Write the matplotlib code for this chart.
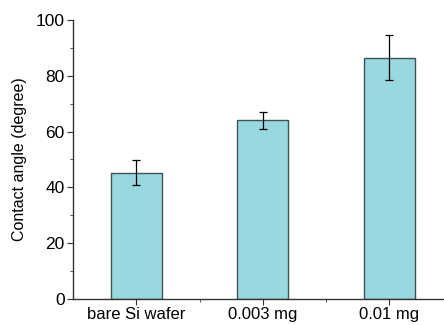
import matplotlib
matplotlib.use("Agg")
import matplotlib.pyplot as plt
from matplotlib.ticker import MultipleLocator

# Data
categories = ["bare Si wafer", "0.003 mg", "0.01 mg"]
angles = [45.2, 64.0, 86.5]
errors = [4.5, 3.0, 8.1]

plt.rcParams['font.family'] = ['Liberation Sans', 'DejaVu Sans']

fig = plt.figure(figsize=(4.44, 3.25), dpi=100)
ax = fig.add_axes([0.1644, 0.08, 0.855, 0.8585])

x = range(len(categories))
ax.bar(x, angles, width=0.4, color='#9AD8E0', edgecolor='#3A5456', linewidth=1.0,
       yerr=errors, error_kw=dict(ecolor='black', elinewidth=0.9, capsize=3, capthick=0.9))

ax.set_xlim(-0.5, 2.5)
ax.set_ylim(0, 100)
ax.set_xticks(list(x))
ax.set_xticklabels(categories, fontsize=12)
ax.set_xticks([0.5, 1.5], minor=True)
ax.yaxis.set_major_locator(MultipleLocator(20))
ax.yaxis.set_minor_locator(MultipleLocator(10))
ax.tick_params(axis='y', labelsize=12.5)
ax.tick_params(which='both', direction='out', color='#333333')
ax.tick_params(which='major', length=4)
ax.tick_params(which='minor', length=2.5)
ax.tick_params(axis='x', pad=1.5)
ax.tick_params(axis='y', pad=2)
ax.set_ylabel("Contact angle (degree)", fontsize=11.5, labelpad=6)

for s in ['top', 'right']:
    ax.spines[s].set_visible(False)
for s in ['left', 'bottom']:
    ax.spines[s].set_color('#333333')
    ax.spines[s].set_linewidth(1.0)

fig.savefig("out.png", dpi=100)
